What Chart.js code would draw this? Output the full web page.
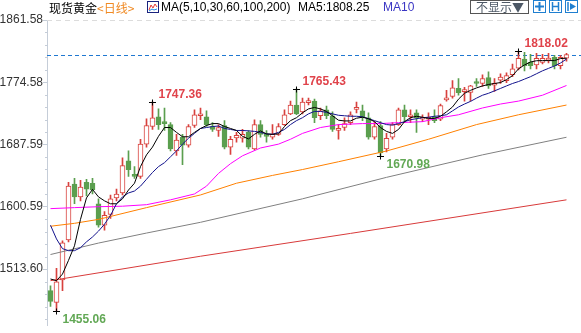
<!DOCTYPE html>
<html>
<head>
<meta charset="utf-8">
<script src="https://cdn.jsdelivr.net/npm/chart.js@4.4.0/dist/chart.umd.min.js"></script>
<style>
  body { margin: 0; background: #fff; width: 581px; height: 333px; overflow: hidden; position: relative; }
  #c { position: absolute; left: 0; top: 0; }
  .t { position: absolute; top: 0; font: 12px Arial, "Liberation Sans", sans-serif; line-height: 15px; white-space: nowrap; }
  .cjk { font-family: "Noto Sans CJK SC", sans-serif; }
  .ico { position: absolute; top: 1px; }
  #hide { position: absolute; left: 470px; top: 0; width: 57px; height: 12px; border: 1px solid #555; font: 12px "Noto Sans CJK SC", sans-serif; line-height: 12px; color: #4d5866; text-indent: 5px; box-sizing: content-box; }
</style>
</head>
<body>
<canvas id="c" width="581" height="333"></canvas>

<span class="t cjk" style="left:49px;color:#000">现货黄金</span>
<span class="t cjk" style="left:97px;color:#f08a24">&lt;日线&gt;</span>
<svg class="ico" style="left:147px" width="12" height="12"><rect x="0.5" y="0.5" width="11" height="11" fill="#fff" stroke="#1a237e"/><polyline points="2,9 4,4 6,7 8,3 10,6" fill="none" stroke="#e53935"/><polyline points="2,10 5,8 7,9 10,8" fill="none" stroke="#1e88e5"/></svg>
<span class="t" style="left:161px;color:#000">MA(5,10,30,60,100,200)</span>
<span class="t" style="left:298px;color:#000">MA5:1808.25</span>
<span class="t" style="left:383px;color:#3a36c4">MA10</span>
<div id="hide">不显示▼</div>
<svg class="ico" style="left:533px;top:0" width="13" height="13"><rect x="0.5" y="0.5" width="12" height="12" fill="#fff" stroke="#1f7fd0"/><path d="M6.5 2v9M2 6.5h9" stroke="#1f7fd0" stroke-width="2"/></svg>
<svg class="ico" style="left:549px;top:0" width="13" height="13"><rect x="0.5" y="0.5" width="12" height="12" fill="#fff" stroke="#1f7fd0"/><path d="M3.5 2v9M9.5 2v9M3.5 6.5h6" stroke="#1f7fd0" stroke-width="1.5"/></svg>
<svg class="ico" style="left:565px;top:0" width="13" height="13"><rect x="0.5" y="0.5" width="12" height="12" fill="#fff" stroke="#1f7fd0"/><path d="M3 2v9" stroke="#1f7fd0" stroke-width="1.5"/><path d="M5 3l6 3.5-6 3.5z" fill="#1f7fd0"/></svg>

<script>
// daily candles, oldest first
const opens = [1483.5,1467.1,1498.5,1554.4,1632.3,1614.5,1635.0,1633.6,1604.9,1574.9,
  1589.9,1613.1,1620.0,1665.0,1645.9,1643.2,1688.2,1712.8,1726.4,1719.6,
  1715.5,1678.7,1697.8,1686.9,1714.2,1727.8,1726.4,1712.8,1707.3,1714.2,
  1684.1,1696.8,1696.4,1704.6,1681.4,1715.5,1701.9,1697.8,1701.9,1715.5,
  1730.5,1742.8,1733.3,1746.2,1748.3,1727.8,1736.0,1727.8,1707.3,1711.4,
  1718.2,1736.7,1734.6,1725.1,1697.8,1714.2,1681.4,1697.8,1715.5,1736.0,
  1726.4,1731.9,1723.0,1723.0,1726.4,1723.0,1750.0,1754.7,1766.0,1761.5,
  1760.6,1774.2,1772.9,1781.0,1770.5,1777.4,1777.0,1785.1,1794.3,1807.0,
  1802.5,1798.8,1802.5,1805.6,1809.3,1797.8,1808.3];
const closes = [1468.4,1495.7,1550.3,1629.5,1614.5,1628.2,1625.4,1624.1,1574.9,1588.6,
  1611.8,1618.6,1658.2,1652.7,1643.2,1688.2,1714.2,1725.1,1715.5,1716.9,
  1681.4,1693.7,1686.9,1712.8,1729.2,1730.5,1715.5,1708.7,1711.4,1684.1,
  1695.0,1700.5,1701.9,1684.1,1715.5,1701.9,1699.1,1701.9,1712.8,1729.2,
  1742.8,1730.5,1746.9,1746.9,1725.1,1734.6,1727.8,1708.7,1710.1,1716.9,
  1729.2,1738.7,1725.1,1697.8,1712.8,1675.9,1696.4,1715.5,1736.0,1726.4,
  1728.5,1725.1,1725.1,1725.1,1721.0,1741.9,1751.4,1767.0,1760.1,1763.3,
  1769.7,1772.9,1779.7,1769.5,1772.9,1782.0,1783.8,1793.3,1807.9,1797.8,
  1797.8,1807.9,1807.9,1808.3,1797.8,1809.3,1813.2];
const highs = [1490.3,1514.8,1553.1,1635.0,1640.4,1637.7,1639.1,1640.4,1611.8,1594.0,
  1617.2,1625.4,1669.1,1678.7,1656.8,1695.0,1723.7,1747.36,1737.4,1738.7,
  1718.2,1701.9,1701.9,1715.5,1736.0,1738.7,1734.6,1718.2,1715.5,1721.0,
  1699.1,1704.6,1708.7,1707.3,1722.3,1721.0,1707.3,1715.5,1716.9,1736.0,
  1748.3,1765.43,1752.4,1752.4,1751.0,1738.7,1741.5,1733.3,1715.5,1725.1,
  1733.3,1746.9,1742.8,1731.9,1719.6,1719.6,1703.2,1718.2,1738.7,1742.8,
  1736.0,1736.0,1729.2,1731.9,1736.0,1744.2,1763.3,1777.0,1779.7,1767.4,
  1770.5,1779.7,1785.1,1789.2,1779.7,1786.5,1787.9,1800.1,1818.02,1816.5,
  1813.8,1815.2,1813.8,1815.2,1812.4,1812.4,1815.2];
const lows = [1461.6,1455.06,1483.5,1551.7,1604.9,1609.0,1615.9,1618.6,1572.2,1568.1,
  1584.5,1609.0,1617.2,1643.2,1640.4,1640.4,1684.1,1708.7,1708.7,1707.3,
  1678.7,1672.5,1659.5,1684.1,1711.4,1722.3,1712.8,1706.0,1699.1,1681.4,
  1674.0,1690.9,1690.9,1681.4,1680.0,1697.8,1690.9,1695.0,1700.5,1714.2,
  1729.2,1729.2,1730.5,1742.8,1718.2,1722.3,1723.7,1706.0,1695.0,1707.3,
  1715.5,1731.9,1721.0,1695.0,1695.0,1670.98,1677.3,1695.0,1714.2,1718.2,
  1718.2,1704.6,1719.6,1715.5,1718.2,1721.0,1748.3,1752.4,1756.5,1748.3,
  1748.3,1768.8,1768.8,1766.0,1761.9,1772.9,1774.2,1782.4,1791.9,1790.6,
  1793.3,1793.3,1800.1,1801.5,1793.3,1793.3,1804.2];

// moving averages, one value per candle
const ma5 = [1499.8,1497.5,1506.7,1525.8,1546.2,1583.1,1613.1,1625.0,1614.5,1609.0,
  1604.9,1604.9,1611.8,1624.1,1633.6,1656.8,1673.2,1684.1,1699.1,1711.4,
  1711.4,1704.6,1698.5,1698.5,1704.6,1710.0,1714.2,1716.9,1716.9,1712.8,
  1710.1,1707.3,1699.1,1695.5,1701.9,1706.7,1702.5,1701.9,1702.5,1712.8,
  1721.0,1725.1,1731.9,1737.4,1739.4,1737.4,1733.9,1727.8,1721.6,1720.6,
  1720.6,1724.4,1725.8,1723.7,1719.6,1711.4,1706.0,1703.2,1708.7,1719.6,
  1725.1,1727.1,1725.8,1724.1,1724.1,1727.1,1733.3,1740.1,1751.0,1759.2,
  1763.3,1766.7,1769.5,1771.5,1772.9,1774.2,1778.3,1783.8,1793.3,1798.8,
  1802.9,1804.7,1804.9,1804.9,1804.9,1807.7,1808.25];
const ma10 = [1574.9,1555.8,1542.2,1539.4,1539.4,1543.5,1551.7,1558.5,1566.7,1576.3,
  1588.6,1604.9,1614.5,1620.0,1622.7,1629.5,1639.1,1648.6,1656.8,1662.3,
  1670.5,1678.7,1688.2,1696.4,1703.2,1710.1,1711.4,1712.8,1713.5,1710.1,
  1708.7,1707.3,1707.3,1706.7,1706.0,1704.6,1702.5,1701.9,1704.6,1708.7,
  1715.5,1721.0,1725.1,1730.5,1733.9,1733.9,1732.6,1730.5,1728.5,1727.8,
  1727.1,1727.1,1726.4,1723.7,1721.0,1718.2,1715.5,1714.8,1716.9,1719.6,
  1722.3,1723.7,1725.1,1725.8,1727.1,1727.8,1729.2,1734.6,1740.1,1744.2,
  1747.9,1752.4,1756.5,1759.2,1762.6,1766.0,1769.5,1772.9,1775.6,1779.0,
  1782.4,1786.5,1790.6,1794.0,1797.4,1801.5,1807.0];

// slower averages, read at selected candles
const ma30Idx = [0,4,8,12,16,20,24,26,28,30,32,35,38,40,42,45,48,52,55,58,62,65,68,72,75,78,82,86];
const ma30 = [1598.1,1599.5,1600.8,1601.5,1603.6,1610.4,1618.6,1629.5,1647.3,1660.9,1671.9,1682.8,1688.2,1695.0,
  1703.2,1711.4,1715.5,1716.9,1716.9,1718.2,1719.6,1725.1,1729.2,1738.7,1744.2,1748.3,1756.5,1770.1];
const ma60Idx = [0,4,8,16,25,31,37,42,48,56,63,71,78,86];
const ma60 = [1573.5,1577.6,1583.1,1599.5,1617.2,1633.6,1644.5,1652.7,1663.6,1678.6,1695.0,1715.5,1729.2,1742.8];
const ma100Idx = [0,8,16,25,42,56,72,86];
const ma100 = [1534.0,1550.0,1564.0,1579.0,1611.8,1641.8,1673.2,1697.8];
const ma200Idx = [0,25,50,86];
const ma200 = [1497.5,1531.6,1563.5,1610.4];

// price axis
const yTickVals = [1861.58, 1774.585, 1687.59, 1600.595, 1513.60];
const yTickLabels = ['1861.58', '1774.58', '1687.59', '1600.59', '1513.60'];

// swing highs / lows that get a price tag
const marks = [
  { i: 1, kind: 'low' },
  { i: 17, kind: 'high' },
  { i: 41, kind: 'high' },
  { i: 55, kind: 'low' },
  { i: 78, kind: 'high' }
];

const UP = '#d8413d';
const DOWN = '#5b9f4f';
const isUp = i => closes[i] >= opens[i];

const pts = (idx, vals) => vals.map((v, k) => ({ x: idx[k], y: v }));
const seq = vals => vals.map((v, i) => ({ x: i, y: v }));

const maLine = (label, data, color) => ({
  type: 'line', label, data, borderColor: color, borderWidth: 1,
  pointRadius: 0, tension: 0, fill: false, order: 0
});

const decor = {
  id: 'decor',
  beforeDatasetsDraw(chart) {
    const { ctx, scales: { y } } = chart;
    const left = chart.chartArea.left;
    ctx.save();
    ctx.lineWidth = 1;
    // top border
    ctx.strokeStyle = '#dcdcdc';
    ctx.setLineDash([5, 4]);
    ctx.beginPath();
    const yt = Math.round(y.getPixelForValue(yTickVals[0])) + 0.5;
    ctx.moveTo(left, yt); ctx.lineTo(chart.width, yt);
    ctx.stroke();
    // last price
    ctx.strokeStyle = '#1f78d1';
    ctx.setLineDash([4, 3]);
    ctx.beginPath();
    const yl = Math.round(y.getPixelForValue(closes[closes.length - 1])) + 0.5;
    ctx.moveTo(left, yl); ctx.lineTo(chart.width, yl);
    ctx.stroke();
    ctx.restore();
  },
  afterDatasetsDraw(chart) {
    const { ctx, scales: { x, y } } = chart;
    ctx.save();
    ctx.font = 'bold 12px Arial, "Liberation Sans", sans-serif';
    ctx.textBaseline = 'middle';
    ctx.textAlign = 'left';
    marks.forEach(m => {
      const val = m.kind === 'high' ? highs[m.i] : lows[m.i];
      const px = x.getPixelForValue(m.i);
      const py = Math.round(y.getPixelForValue(val)) + 0.5;
      ctx.strokeStyle = '#000';
      ctx.lineWidth = 1;
      ctx.beginPath();
      ctx.moveTo(px - 3.5, py); ctx.lineTo(px + 3.5, py);
      ctx.moveTo(px, py - 3); ctx.lineTo(px, py + 3);
      ctx.stroke();
      ctx.fillStyle = m.kind === 'high' ? '#e0434b' : '#62a855';
      ctx.fillText(val.toFixed(2), px + 6, m.kind === 'high' ? py - 8 : py + 8);
    });
    ctx.restore();
  },
  afterDraw(chart) {
    // minor ticks on the price axis
    const { ctx, scales: { y } } = chart;
    const step = (yTickVals[0] - yTickVals[1]) / 5;
    ctx.save();
    ctx.strokeStyle = '#c5cdd8';
    ctx.lineWidth = 1;
    ctx.beginPath();
    for (let k = 1; yTickVals[0] - k * step > y.min; k++) {
      if (k % 5 === 0) continue;
      const py = Math.round(y.getPixelForValue(yTickVals[0] - k * step)) + 0.5;
      ctx.moveTo(y.right - 2, py); ctx.lineTo(y.right, py);
    }
    ctx.stroke();
    ctx.restore();
  }
};

new Chart(document.getElementById('c'), {
  data: {
    datasets: [
      maLine('MA5', seq(ma5), '#000000'),
      maLine('MA10', seq(ma10), '#12128c'),
      maLine('MA30', pts(ma30Idx, ma30), '#ff00ff'),
      maLine('MA60', pts(ma60Idx, ma60), '#ff8000'),
      maLine('MA100', pts(ma100Idx, ma100), '#808080'),
      maLine('MA200', pts(ma200Idx, ma200), '#d83a3a'),
      {
        type: 'bar', label: 'body',
        data: opens.map((o, i) => ({ x: i, y: [o, closes[i]] })),
        backgroundColor: c => isUp(c.dataIndex) ? '#ffffff' : DOWN,
        borderColor: c => isUp(c.dataIndex) ? UP : DOWN,
        borderWidth: 1, borderSkipped: false, barThickness: 5, minBarLength: 2,
        grouped: false, order: 1
      },
      {
        type: 'bar', label: 'wick',
        data: lows.map((l, i) => ({ x: i, y: [l, highs[i]] })),
        backgroundColor: c => isUp(c.dataIndex) ? UP : DOWN,
        barThickness: 1, grouped: false, order: 2
      }
    ]
  },
  options: {
    responsive: false,
    animation: false,
    layout: { padding: { top: 20, right: 12, bottom: 0, left: 0 } },
    plugins: { legend: { display: false }, tooltip: { enabled: false } },
    scales: {
      x: { type: 'linear', offset: false, min: -0.5833, max: 86.4167, display: false },
      y: {
        min: 1434.45, max: 1861.58,
        afterFit(s) { s.width = 47; },
        afterBuildTicks(s) { s.ticks = yTickVals.map(v => ({ value: v })); },
        ticks: {
          callback: (v, i) => yTickLabels[i],
          color: '#333', padding: 0,
          font: { size: 12, family: 'Arial, "Liberation Sans", sans-serif' }
        },
        grid: { drawOnChartArea: false, tickLength: 4, color: '#c5cdd8' },
        border: { color: '#c5cdd8' }
      }
    }
  },
  plugins: [decor]
});
</script>
</body>
</html>
